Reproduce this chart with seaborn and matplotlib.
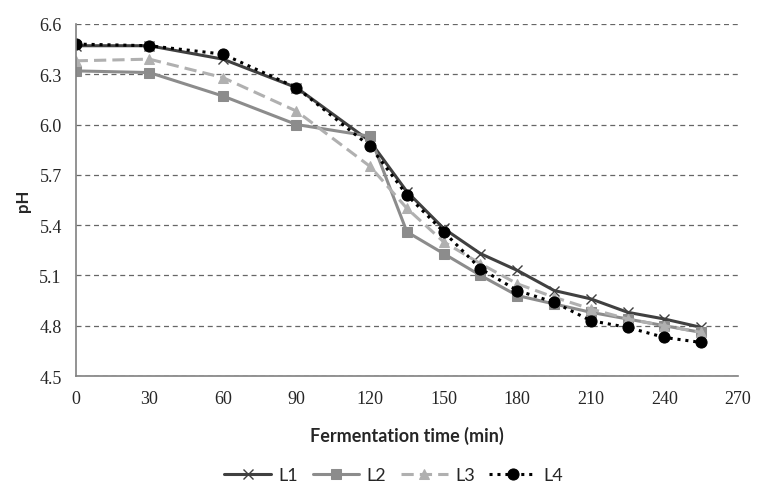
import numpy as np
import pandas as pd
import matplotlib
matplotlib.use("Agg")
import matplotlib.pyplot as plt
import seaborn as sns

# --- data ---
time_min = [0, 30, 60, 90, 120, 135, 150, 165, 180, 195, 210, 225, 240, 255]
ph_L1 = [6.47, 6.47, 6.39, 6.22, 5.90, 5.60, 5.38, 5.23, 5.13, 5.01, 4.96, 4.88, 4.84, 4.79]
ph_L2 = [6.32, 6.31, 6.17, 6.00, 5.93, 5.36, 5.23, 5.10, 4.98, 4.93, 4.88, 4.84, 4.80, 4.76]
ph_L3 = [6.38, 6.39, 6.28, 6.08, 5.75, 5.50, 5.30, 5.17, 5.05, 4.97, 4.90, 4.84, 4.80, 4.76]
ph_L4 = [6.48, 6.47, 6.42, 6.22, 5.87, 5.58, 5.36, 5.14, 5.01, 4.94, 4.83, 4.79, 4.73, 4.70]
series_names = ["L1", "L2", "L3", "L4"]
x_ticks = [0, 30, 60, 90, 120, 150, 180, 210, 240, 270]
y_ticks = [4.5, 4.8, 5.1, 5.4, 5.7, 6.0, 6.3, 6.6]

df = pd.DataFrame({
    "time": time_min * 4,
    "pH": ph_L1 + ph_L2 + ph_L3 + ph_L4,
    "line": sum([[n] * len(time_min) for n in series_names], []),
})

sns.set_style("white")

# per-series styling (seaborn won't mix line-art and filled markers in one call)
styles = {
    "L1": dict(color="#404040", marker="x", linestyle="-", markersize=7, markeredgewidth=1.0),
    "L2": dict(color="#8c8c8c", marker="s", linestyle="-", markersize=7),
    "L3": dict(color="#b0b0b0", marker="^", linestyle=(0, (4, 2)), markersize=7),
    "L4": dict(color="#000000", marker="o", linestyle=(0, (1, 1.6)), markersize=8),
}

fig = plt.figure(figsize=(7.57, 4.89), dpi=100)
ax = fig.add_axes([0.1, 0.229, 0.875, 0.72])

for name in series_names:
    sub = df[df["line"] == name]
    st = styles[name]
    sns.lineplot(data=sub, x="time", y="pH", label=name, linewidth=2.2,
                 markeredgecolor=st["color"], ax=ax, **st)

ax.set_xlim(0, 270)
ax.set_ylim(4.5, 6.6)
ax.set_xticks(x_ticks)
ax.set_yticks(y_ticks)
ax.set_yticklabels([f"{v:.1f}" for v in y_ticks])

for lab in ax.get_xticklabels() + ax.get_yticklabels():
    lab.set_fontfamily("Liberation Serif")
    lab.set_fontsize(13)

ax.yaxis.grid(True, linestyle=(0, (4, 3)), color="#666666", linewidth=0.9)
ax.xaxis.grid(False)
ax.set_axisbelow(True)

for s in ["top", "right"]:
    ax.spines[s].set_visible(False)
for s in ["left", "bottom"]:
    ax.spines[s].set_color("#808080")
    ax.spines[s].set_linewidth(1.2)

ax.tick_params(axis="x", direction="out", length=5, color="#808080", pad=5)
ax.tick_params(axis="y", direction="out", length=4, color="#808080", pad=6)

ax.set_xlabel("Fermentation time (min)", fontfamily="Lato", fontweight="bold",
              fontsize=13, labelpad=14)
ax.set_ylabel("pH", fontfamily="Lato", fontweight="bold", fontsize=12, labelpad=6)

handles, labels = ax.get_legend_handles_labels()
ax.legend_.remove()
fig.legend(handles, labels, loc="center", bbox_to_anchor=(0.52, 0.026),
           ncol=4, frameon=False, handlelength=2.6, columnspacing=0.8,
           handletextpad=0.4, borderpad=0.1, prop={"family": "Lato", "size": 13})

fig.savefig("out.png", dpi=100)
